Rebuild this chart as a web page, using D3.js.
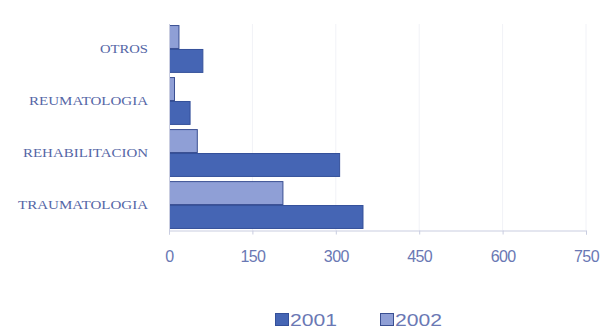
<!DOCTYPE html>
<html><head><meta charset="utf-8">
<script src="https://cdn.jsdelivr.net/npm/d3@7"></script>
<style>body{margin:0;background:#fff}svg{display:block}</style>
</head><body>
<svg id="c" width="600" height="329"></svg>
<script>
const categories = ["OTROS", "REUMATOLOGIA", "REHABILITACION", "TRAUMATOLOGIA"];
const series = ["2002", "2001"];
const values2001 = [60, 37, 306, 348];
const values2002 = [17, 9, 50, 204];
const tickValues = [0, 150, 300, 450, 600, 750];
const legendItems = ["2001", "2002"];
const labelWidths = [48, 119, 125, 130];

const colors = {"2001": "#4565b4", "2002": "#8f9fd6"};
const stroke = {"2001": "#34509a", "2002": "#3a4f92"};
const textColor = "#5566a6";
const tickColor = "#6a78b4";

const svg = d3.select("#c");
const x = d3.scaleLinear().domain([0, 750]).range([169, 586]);
const y = d3.scaleBand().domain(categories).range([24, 230]).paddingInner(0.08).paddingOuter(0.02);
const ySub = d3.scaleBand().domain(series).range([0, y.bandwidth()]).padding(0);

// grid
svg.append("g").selectAll("line").data(tickValues.slice(1)).join("line")
  .attr("x1", d => x(d)).attr("x2", d => x(d)).attr("y1", 24).attr("y2", 230)
  .attr("stroke", "#f1f2f7").attr("stroke-width", 1);

const data = categories.map((c, i) => ({cat: c, "2001": values2001[i], "2002": values2002[i]}));
const g = svg.append("g");
data.forEach(d => {
  series.forEach(s => {
    g.append("rect")
      .attr("x", x(0) + 0.5)
      .attr("y", y(d.cat) + ySub(s) + 0.5)
      .attr("width", x(d[s]) - x(0))
      .attr("height", ySub.bandwidth() - 1)
      .attr("fill", colors[s])
      .attr("stroke", stroke[s]).attr("stroke-width", 1);
  });
});

// axes
const xAxis = d3.axisBottom(x).tickValues(tickValues).tickSize(4).tickPadding(16);
const ax = svg.append("g").attr("transform", "translate(0,230.5)").call(xAxis);
ax.select(".domain").attr("stroke", "#c9cde0");
ax.selectAll(".tick line").attr("stroke", "#c9cde0");
ax.selectAll(".tick text").attr("fill", tickColor).attr("font-family", "Liberation Sans, Arial, sans-serif").attr("font-size", 16).attr("letter-spacing", "-0.6px");

svg.append("line").attr("x1", 169.5).attr("x2", 169.5).attr("y1", 24).attr("y2", 231).attr("stroke", "#c9cde0");

// category labels
svg.append("g").selectAll("text").data(categories).join("text")
  .attr("x", 148)
  .attr("y", d => y(d) + y.bandwidth() / 2 + 4)
  .attr("text-anchor", "end")
  .attr("font-family", "Liberation Serif, Times New Roman, serif")
  .attr("font-size", 12)
  .attr("fill", textColor)
  .attr("textLength", (d, i) => labelWidths[i])
  .attr("lengthAdjust", "spacingAndGlyphs")
  .text(d => d);

// legend
const legendX = [275, 380];
const lg = svg.append("g");
legendItems.forEach((s, i) => {
  lg.append("rect").attr("x", legendX[i] + 0.5).attr("y", 313.5).attr("width", 13).attr("height", 12)
    .attr("fill", colors[s]).attr("stroke", stroke[s]);
  lg.append("text").attr("x", legendX[i] + 15).attr("y", 326)
    .attr("font-family", "Liberation Sans, Arial, sans-serif").attr("font-size", 16)
    .attr("textLength", 47).attr("lengthAdjust", "spacingAndGlyphs")
    .attr("fill", tickColor).text(s);
});
</script>
</body></html>
